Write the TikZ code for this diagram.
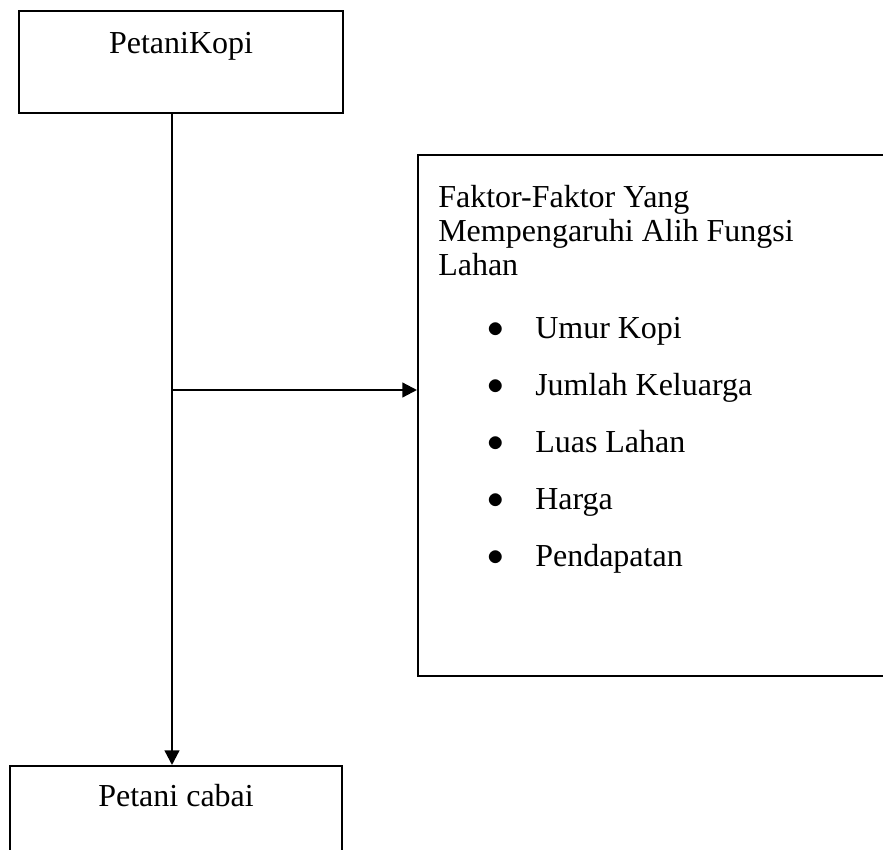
\documentclass[tikz,border=0pt]{standalone}
\usepackage{fontspec}
\setmainfont{Liberation Serif}
\usetikzlibrary{arrows.meta}
\tikzset{
  kotak/.style={draw,line width=1.6pt,inner sep=0pt,align=center,
                font=\fontsize{24}{25.5}\selectfont},
  teks/.style={inner sep=0pt,anchor=base west,font=\fontsize{24}{25.5}\selectfont},
  panah/.style={-{Triangle[length=11pt,width=11pt]},line width=1.7pt},
}

\begin{document}
\begin{tikzpicture}[x=0.75pt,y=-0.75pt]
\useasboundingbox (0,0) rectangle (883,850);
% kotak kiri
\node[kotak,anchor=north west,minimum width=243pt,text height=31.5pt,text depth=45pt] (petkopi) at (18,10) {PetaniKopi};
\node[kotak,anchor=north west,minimum width=249pt,text height=30pt,text depth=75pt] (petcabai) at (9,765) {Petani cabai};
% kotak faktor
\node[kotak,anchor=north west,minimum width=375pt,minimum height=390.75pt] (faktor) at (417,154) {};
\node[teks] (judul1) at (438,207) {Faktor-Faktor Yang};
\node[teks] (judul2) at (438,241) {Mempengaruhi Alih Fungsi};
\node[teks] (judul3) at (438,275) {Lahan};
\foreach \isi [count=\i] in {Umur Kopi,Jumlah Keluarga,Luas Lahan,Harga,Pendapatan}
  \node[teks] (butir\i) at (487,{338+57*(\i-1)}) {\makebox[36pt][l]{\raisebox{0.5pt}{$\bullet$}}\isi};
% panah
\coordinate (cabang) at (172,390);
\draw[panah] (cabang |- petkopi.south) -- (cabang |- petcabai.north);
\draw[panah] (cabang) -- (cabang -| faktor.west);
\end{tikzpicture}
\end{document}
